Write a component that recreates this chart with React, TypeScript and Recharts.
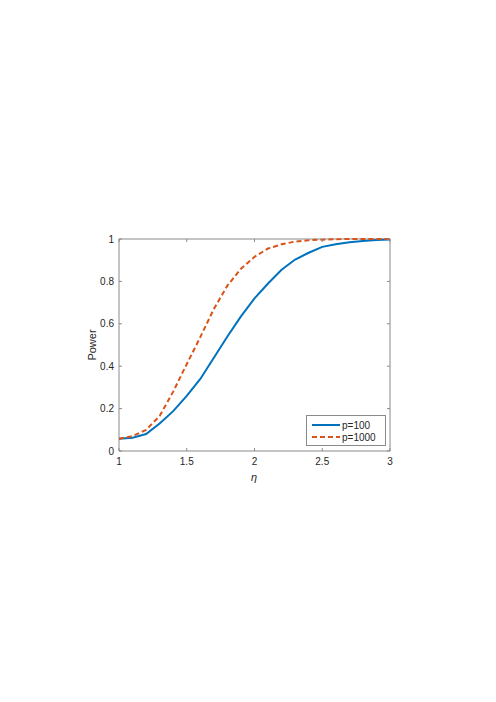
import React from 'react'
import { ComposedChart, Line, XAxis, YAxis, ReferenceArea } from 'recharts'

const eta = [1.0, 1.1, 1.2, 1.3, 1.4, 1.5, 1.6, 1.7, 1.8, 1.9, 2.0, 2.1, 2.2, 2.3, 2.4, 2.5, 2.6, 2.7, 2.8, 2.9, 3.0]
const powerP100 = [0.058, 0.063, 0.08, 0.13, 0.188, 0.26, 0.34, 0.44, 0.54, 0.635, 0.72, 0.79, 0.855, 0.903, 0.935, 0.963, 0.975, 0.985, 0.99, 0.995, 0.998]
const powerP1000 = [0.058, 0.07, 0.1, 0.165, 0.28, 0.41, 0.537, 0.67, 0.78, 0.86, 0.916, 0.955, 0.975, 0.988, 0.994, 0.997, 0.999, 1.0, 1.0, 1.0, 1.0]
const xTicks = [1, 1.5, 2, 2.5, 3]
const yTicks = [0, 0.2, 0.4, 0.6, 0.8, 1]

const data = eta.map((e, i) => ({ eta: e, p100: powerP100[i], p1000: powerP1000[i] }))

const W = 496
const H = 702
const LEFT = 119
const RIGHT = 390
const TOP = 239
const BOTTOM = 451
const TICK = 3
const AXIS = '#8a8a8a'
const TEXT = '#262626'
const FONT = '"Liberation Sans", Arial, sans-serif'
const BLUE = '#0072BD'
const ORANGE = '#D95319'

const XTick = (props: any) => {
  const { x, payload } = props
  return (
    <g>
      <line x1={x} x2={x} y1={BOTTOM} y2={BOTTOM - TICK} stroke={AXIS} />
      <line x1={x} x2={x} y1={TOP} y2={TOP + TICK} stroke={AXIS} />
      <text x={x} y={BOTTOM + 14} textAnchor="middle" fontSize={10} fill={TEXT} fontFamily={FONT}>
        {payload.value}
      </text>
    </g>
  )
}

const YTick = (props: any) => {
  const { y, payload } = props
  return (
    <g>
      <line x1={LEFT} x2={LEFT + TICK} y1={y} y2={y} stroke={AXIS} />
      <line x1={RIGHT} x2={RIGHT - TICK} y1={y} y2={y} stroke={AXIS} />
      <text x={LEFT - 5} y={y + 3.5} textAnchor="end" fontSize={10} fill={TEXT} fontFamily={FONT}>
        {payload.value}
      </text>
    </g>
  )
}

const LegendBox = () => (
  <div
    style={{
      position: 'absolute',
      left: 306,
      top: 415,
      width: 80,
      height: 31,
      border: `1px solid ${AXIS}`,
      background: '#fff',
      fontFamily: FONT,
      fontSize: 10,
      color: TEXT,
      boxSizing: 'border-box',
    }}
  >
    {[
      { label: 'p=100', color: BLUE, dash: undefined },
      { label: 'p=1000', color: ORANGE, dash: '5 3' },
    ].map((item, i) => (
      <div key={i} style={{ display: 'flex', alignItems: 'center', height: 12, marginTop: i === 0 ? 3 : 0 }}>
        <svg width={34} height={12}>
          <line x1={5} x2={33} y1={6} y2={6} stroke={item.color} strokeWidth={2} strokeDasharray={item.dash} />
        </svg>
        <span style={{ marginLeft: 1 }}>{item.label}</span>
      </div>
    ))}
  </div>
)

export default function App() {
  return (
    <div style={{ position: 'absolute', left: 0, top: 0, width: W, height: H, background: '#fff' }}>
      <ComposedChart
        width={W}
        height={H}
        data={data}
        margin={{ top: TOP, right: W - RIGHT, bottom: H - BOTTOM - 40, left: LEFT - 40 }}
      >
        <XAxis
          dataKey="eta"
          type="number"
          domain={[1, 3]}
          ticks={xTicks}
          height={40}
          axisLine={false}
          tickLine={false}
          tick={<XTick />}
          interval={0}
        />
        <YAxis
          type="number"
          domain={[0, 1]}
          ticks={yTicks}
          width={40}
          axisLine={false}
          tickLine={false}
          tick={<YTick />}
          interval={0}
        />
        <ReferenceArea x1={1} x2={3} y1={0} y2={1} fill="none" stroke={AXIS} strokeWidth={1} ifOverflow="visible" />
        <Line
          type="linear"
          dataKey="p100"
          stroke={BLUE}
          strokeWidth={2}
          dot={false}
          isAnimationActive={false}
        />
        <Line
          type="linear"
          dataKey="p1000"
          stroke={ORANGE}
          strokeWidth={2}
          strokeDasharray="5 3"
          dot={false}
          isAnimationActive={false}
        />
      </ComposedChart>
      <LegendBox />
      <div
        style={{
          position: 'absolute',
          left: 92,
          top: 345,
          transform: 'translate(-50%, -50%) rotate(-90deg)',
          fontFamily: FONT,
          fontSize: 11,
          color: TEXT,
        }}
      >
        Power
      </div>
      <div
        style={{
          position: 'absolute',
          left: 254,
          top: 477,
          transform: 'translate(-50%, -50%)',
          fontFamily: FONT,
          fontSize: 11,
          fontStyle: 'italic',
          color: TEXT,
        }}
      >
        η
      </div>
    </div>
  )
}
